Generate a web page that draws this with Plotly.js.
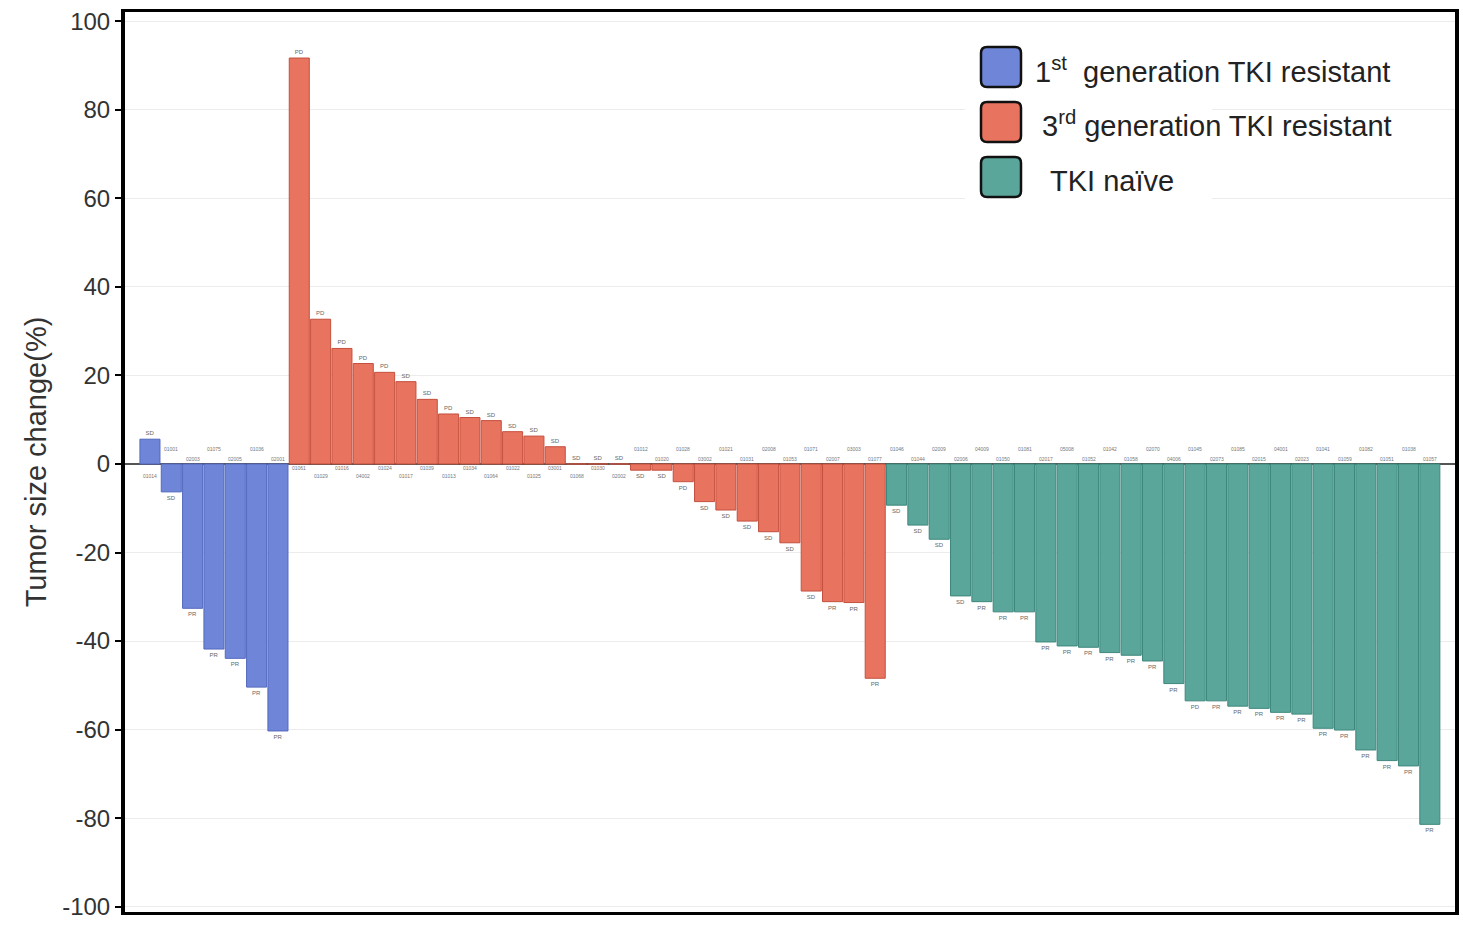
<!DOCTYPE html>
<html>
<head>
<meta charset="utf-8">
<script src="https://cdn.plot.ly/plotly-3.0.1.min.js"></script>
<style>html,body{margin:0;padding:0;background:#fff;}#chart{width:1463px;height:950px;}</style>
</head>
<body>
<div id="chart"></div>
<script>
// ---- data ----
const groupNames = ['1<sup>st</sup>  generation TKI resistant', '3<sup>rd</sup> generation TKI resistant', 'TKI naïve'];

const firstGenIds = ['01014','01001','02003','01075','02005','01036','02001'];
const firstGenValues = [5.6, -6.3, -32.6, -41.8, -43.9, -50.4, -60.3];
const firstGenResp = ['SD','SD','PR','PR','PR','PR','PR'];

const thirdGenIds = ['01061','01029','01016','04002','01024','01017','01039','01013','01034','01064','01022','01025','03001','01068','01030','02002','01012','01020','01028','03002','01021','01031','02008','01053','01071','02007','03003','01077'];
const thirdGenValues = [91.7, 32.7, 26.1, 22.7, 20.7, 18.6, 14.6, 11.3, 10.5, 9.8, 7.3, 6.3, 3.9, 0, 0, 0, -1.4, -1.4, -4.0, -8.5, -10.4, -12.9, -15.3, -17.8, -28.7, -31.1, -31.3, -48.4];
const thirdGenResp = ['PD','PD','PD','PD','PD','SD','SD','PD','SD','SD','SD','SD','SD','SD','SD','SD','SD','SD','PD','SD','SD','SD','SD','SD','SD','PR','PR','PR'];

const naiveIds = ['01046','01044','02009','02006','04009','01050','01081','02017','05008','01052','01042','01058','02070','04006','01045','02073','01085','02015','04001','02023','01041','01059','01082','01051','01038','01057'];
const naiveValues = [-9.3, -13.8, -17.0, -29.8, -31.1, -33.4, -33.4, -40.2, -41.1, -41.4, -42.6, -43.2, -44.5, -49.6, -53.5, -53.5, -54.7, -55.2, -56.1, -56.5, -59.7, -60.1, -64.6, -67.0, -68.2, -81.4];
const naiveResp = ['SD','SD','SD','SD','PR','PR','PR','PR','PR','PR','PR','PR','PR','PR','PD','PR','PR','PR','PR','PR','PR','PR','PR','PR','PR','PR'];

const yTickVals = [100, 80, 60, 40, 20, 0, -20, -40, -60, -80, -100];
const yTickText = ['100','80','60','40','20','0','-20','-40','-60','-80','-100'];

// ---- styling ----
const fills = ['#6f86d8', '#e8735f', '#5aa69b'];
const edges = ['#5368bd', '#c4503e', '#3e877c'];

const groups = [
  {ids: firstGenIds, vals: firstGenValues, resp: firstGenResp},
  {ids: thirdGenIds, vals: thirdGenValues, resp: thirdGenResp},
  {ids: naiveIds, vals: naiveValues, resp: naiveResp}
];

const traces = [];
const annotations = [];
let offset = 0;
groups.forEach((g, gi) => {
  const xs = g.vals.map((v, j) => offset + j);
  traces.push({
    type: 'bar', x: xs, y: g.vals, text: g.resp,
    textposition: 'outside', cliponaxis: false,
    textfont: {size: 6, color: '#666', family: 'Arial, Liberation Sans, sans-serif'},
    marker: {color: fills[gi], line: {color: edges[gi], width: 1}},
    showlegend: false, hoverinfo: 'x+y'
  });
  g.ids.forEach((id, j) => {
    const i = offset + j;
    const v = g.vals[j];
    let shift;
    if (v >= 0) shift = (i % 2 === 0) ? -12 : -4;
    else shift = (i % 2 === 1) ? 15 : 5;
    annotations.push({
      x: i, y: 0, xref: 'x', yref: 'y', text: id, showarrow: false,
      yshift: shift, font: {size: 5, color: '#777', family: 'Arial, Liberation Sans, sans-serif'}
    });
  });
  offset += g.vals.length;
});

// plot area in pixels
const L = 125, R = 1455, T = 12, B = 912;
const px = x => (x - L) / (R - L);
const py = y => (B - y) / (B - T);

function roundRect(x0, y0, x1, y1, r) {
  const a = px(x0), b = px(x1), c = py(y0), d = py(y1);
  const rx = r / (R - L), ry = r / (B - T);
  return `M ${a+rx},${c} L ${b-rx},${c} Q ${b},${c} ${b},${c-ry} L ${b},${d+ry} Q ${b},${d} ${b-rx},${d} L ${a+rx},${d} Q ${a},${d} ${a},${d+ry} L ${a},${c-ry} Q ${a},${c} ${a+rx},${c} Z`;
}

const shapes = [
  {type: 'rect', xref: 'paper', yref: 'paper', x0: px(965), x1: px(1212), y0: py(38), y1: py(206),
   fillcolor: '#ffffff', line: {width: 0}, layer: 'above'}
];
const legendY = [67, 122, 177];
const textY = [70, 124, 181];
const textX = [1033, 1040, 1048];
legendY.forEach((cy, k) => {
  shapes.push({type: 'path', xref: 'paper', yref: 'paper', path: roundRect(981, cy - 20, 1021, cy + 20, 6),
    fillcolor: fills[k], line: {color: '#111', width: 2.5}, layer: 'above'});
  annotations.push({xref: 'paper', yref: 'paper', x: px(textX[k]), y: py(textY[k]),
    xanchor: 'left', yanchor: 'middle', showarrow: false, text: groupNames[k],
    font: {size: 29, color: '#222', family: 'Arial, Liberation Sans, sans-serif'}});
});

const layout = {
  width: 1463, height: 950,
  margin: {l: L, r: 1463 - R, t: T, b: 950 - B},
  paper_bgcolor: '#fff', plot_bgcolor: '#fff',
  bargap: 0.06,
  font: {family: 'Arial, Liberation Sans, sans-serif', color: '#333'},
  xaxis: {range: [-1.17, 61.18], showticklabels: false, ticks: '', showgrid: false, zeroline: false,
          showline: true, mirror: true, linecolor: '#000', linewidth: 3, fixedrange: true},
  yaxis: {range: [-101.2, 102.1], tickvals: yTickVals, ticktext: yTickText, ticks: 'outside', ticklen: 6,
          tickwidth: 2, tickcolor: '#000', tickfont: {size: 24, color: '#333'},
          showgrid: true, gridcolor: '#ececec', gridwidth: 1,
          zeroline: true, zerolinecolor: '#555', zerolinewidth: 2,
          showline: true, mirror: true, linecolor: '#000', linewidth: 4,
          title: {text: 'Tumor size change(%)', font: {size: 29, color: '#333'}, standoff: 8}},
  shapes: shapes,
  annotations: annotations
};

Plotly.newPlot('chart', traces, layout, {staticPlot: true});
</script>
</body>
</html>
